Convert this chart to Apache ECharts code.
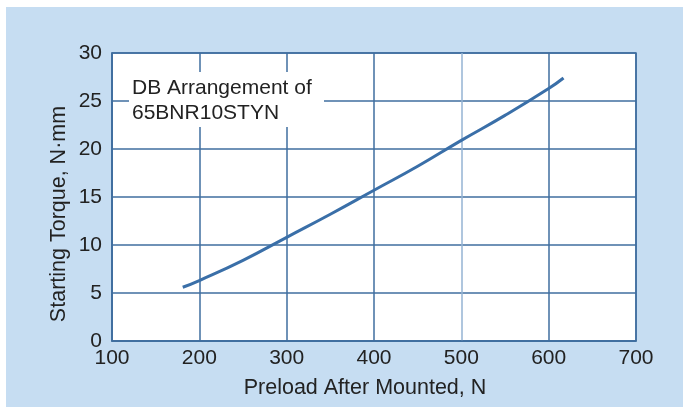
<!DOCTYPE html>
<html>
<head>
<meta charset="utf-8">
<script src="https://cdn.jsdelivr.net/npm/echarts@6/dist/echarts.min.js"></script>
<style>
html,body{margin:0;padding:0;background:#ffffff;}
#chart{width:683px;height:407px;}
</style>
</head>
<body>
<div id="chart"></div>
<script>
// Data
const preload = [181, 200, 250, 300, 350, 400, 450, 500, 550, 600, 617];
const torque  = [5.6, 6.3, 8.4, 10.8, 13.2, 15.7, 18.2, 20.9, 23.5, 26.3, 27.4];
const xTicks = [100, 200, 300, 400, 500, 600, 700];
const yTicks = [0, 5, 10, 15, 20, 25, 30];
const xTitle = 'Preload After Mounted, N';
const yTitle = 'Starting Torque, N·mm';
const noteLines = ['DB Arrangement of', '65BNR10STYN'];

const FONT = '"Liberation Sans", Arial, Helvetica, sans-serif';
const GRID_C = '#3f6e9f';
const chart = echarts.init(document.getElementById('chart'), null, {renderer: 'canvas'});

const option = {
  animation: false,
  backgroundColor: '#ffffff',
  grid: {
    left: 112, right: 47, top: 53, bottom: 66,
    show: true, backgroundColor: '#ffffff', borderColor: GRID_C, borderWidth: 1.5
  },
  xAxis: {
    type: 'value', min: xTicks[0], max: xTicks[xTicks.length - 1], interval: 100,
    axisLine: {show: true, lineStyle: {color: GRID_C, width: 1.5}},
    axisTick: {show: false},
    axisLabel: {color: '#222222', fontSize: 21, fontFamily: FONT, margin: 7},
    splitLine: {show: true, lineStyle: {color: [GRID_C, GRID_C, GRID_C, GRID_C, '#94b3d3', GRID_C, GRID_C], width: 1.5}}
  },
  yAxis: {
    type: 'value', min: yTicks[0], max: yTicks[yTicks.length - 1], interval: 5,
    axisLine: {show: true, lineStyle: {color: GRID_C, width: 1.5}},
    axisTick: {show: false},
    axisLabel: {color: '#222222', fontSize: 21, fontFamily: FONT, margin: 10},
    splitLine: {show: true, lineStyle: {color: GRID_C, width: 1.5}}
  },
  graphic: [
    {type: 'rect', z: -10, silent: true, shape: {x: 6, y: 7, width: 677, height: 400}, style: {fill: '#c6ddf2'}},
    {type: 'rect', z: 50, silent: true, shape: {x: 129, y: 72, width: 195, height: 55}, style: {fill: '#ffffff'}},
    {type: 'text', z: 51, x: 132, y: 88, style: {text: noteLines[0], font: '21px ' + FONT, fill: '#222222', verticalAlign: 'middle', align: 'left'}},
    {type: 'text', z: 51, x: 132, y: 113.5, style: {text: noteLines[1], font: '21px ' + FONT, fill: '#222222', verticalAlign: 'middle', align: 'left'}},
    {type: 'text', z: 51, x: 365, y: 388, style: {text: xTitle, font: '21.5px ' + FONT, fill: '#222222', verticalAlign: 'middle', align: 'center'}},
    {type: 'text', z: 51, x: 59, y: 214, rotation: Math.PI / 2, style: {text: yTitle, font: '21.5px ' + FONT, fill: '#222222', verticalAlign: 'middle', align: 'center'}}
  ],
  series: [{
    type: 'line',
    data: preload.map((p, i) => [p, torque[i]]),
    smooth: true,
    showSymbol: false,
    symbol: 'none',
    lineStyle: {color: '#3a6fa8', width: 3},
    z: 10
  }]
};
chart.setOption(option);
</script>
</body>
</html>
